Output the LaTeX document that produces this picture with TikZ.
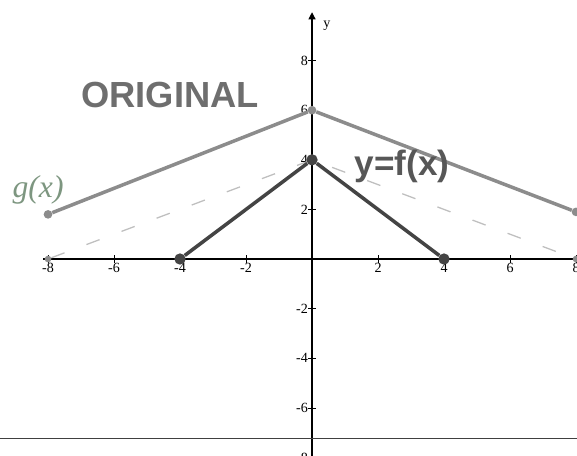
\documentclass[tikz,border=0pt]{standalone}
\usepackage{fontspec}
\setmainfont{Liberation Serif}
\newfontfamily\labelfont{Liberation Sans}
\usetikzlibrary{positioning, arrows.meta}
\definecolor{gline}{RGB}{140,140,140}
\definecolor{fline}{RGB}{68,68,68}
\definecolor{hand}{RGB}{125,150,128}
\definecolor{titlegray}{RGB}{110,110,110}

\begin{document}
\begin{tikzpicture}[x=0.99cm, y=0.744cm, every node/.style={inner sep=2pt},
  tick/.style={font=\fontsize{12}{13}\selectfont, inner sep=1pt},
  fdot/.style={circle, fill=fline, inner sep=0pt, minimum size=0.34cm},
  gdot/.style={circle, fill=gline, inner sep=0pt, minimum size=0.26cm},
  axisline/.style={black, line width=0.9pt},
  gpath/.style={gline, line width=3pt},
  fpath/.style={fline, line width=3pt},
  hint/.style={gray!50, line width=1.1pt, dash pattern=on 12pt off 20pt}]
\useasboundingbox (-9.455,-7.903) rectangle (8.03,10.444);
\clip (-9.455,-7.903) rectangle (8.03,10.444);
% axes
\coordinate (xl) at (-8.15,0);
\coordinate (xr) at (8.2,0);
\coordinate (yb) at (0,-8.2);
\coordinate (yt) at (0,9.95);
\draw[axisline] (xl) -- (xr);
\draw[axisline, -{Triangle[width=6pt,length=6pt]}] (yb) -- (yt);
\node[tick] (ylab) at (0.45,9.4) {y};
\foreach \x in {-8,-6,-4,-2,2,4,6,8} {
  \draw (\x,-0.16) -- (\x,0.16);
  \node[tick, below=2.5pt] (xt\x) at (\x,0) {\x};
}
\foreach \y in {-8,-6,-4,-2,2,4,6,8}
  \draw (-0.12,\y) -- (0.12,\y) node[tick, left=0.2cm] {\y};
% page edge
\coordinate (el) at (-9.455,-7.22);
\coordinate (er) at (8.03,-7.22);
\draw[black!75, line width=0.7pt] (el) -- (er);
% dashed sketch
\node[gdot, minimum size=0.2cm] (h1) at (-8,0) {};
\node[gdot, minimum size=0.2cm] (h3) at (8,0) {};
\coordinate (h2) at (0,4);
\draw[hint] (h1) -- (h2) -- (h3);
% g(x)
\node[gdot] (g1) at (-8,1.8) {};
\node[gdot] (g2) at (0,6) {};
\node[gdot] (g3) at (8,1.9) {};
\draw[gpath] (g1) -- (g2) -- (g3);
% f(x)
\node[fdot] (f1) at (-4,0) {};
\node[fdot] (f2) at (0,4) {};
\node[fdot] (f3) at (4,0) {};
\draw[fpath] (f1) -- (f2) -- (f3);
% labels
\node[font=\labelfont\bfseries\fontsize{31}{34}\selectfont, color=titlegray] (orig) at (-4.3,6.61) {ORIGINAL};
\node[font=\labelfont\bfseries\fontsize{30}{32}\selectfont, color=fline!90] (fname) at (2.73,3.75) {y=f(x)};
\node[font=\itshape\fontsize{27}{29}\selectfont, color=hand] (gname) at (-8.3,2.8) {g(x)};
\end{tikzpicture}
\end{document}
